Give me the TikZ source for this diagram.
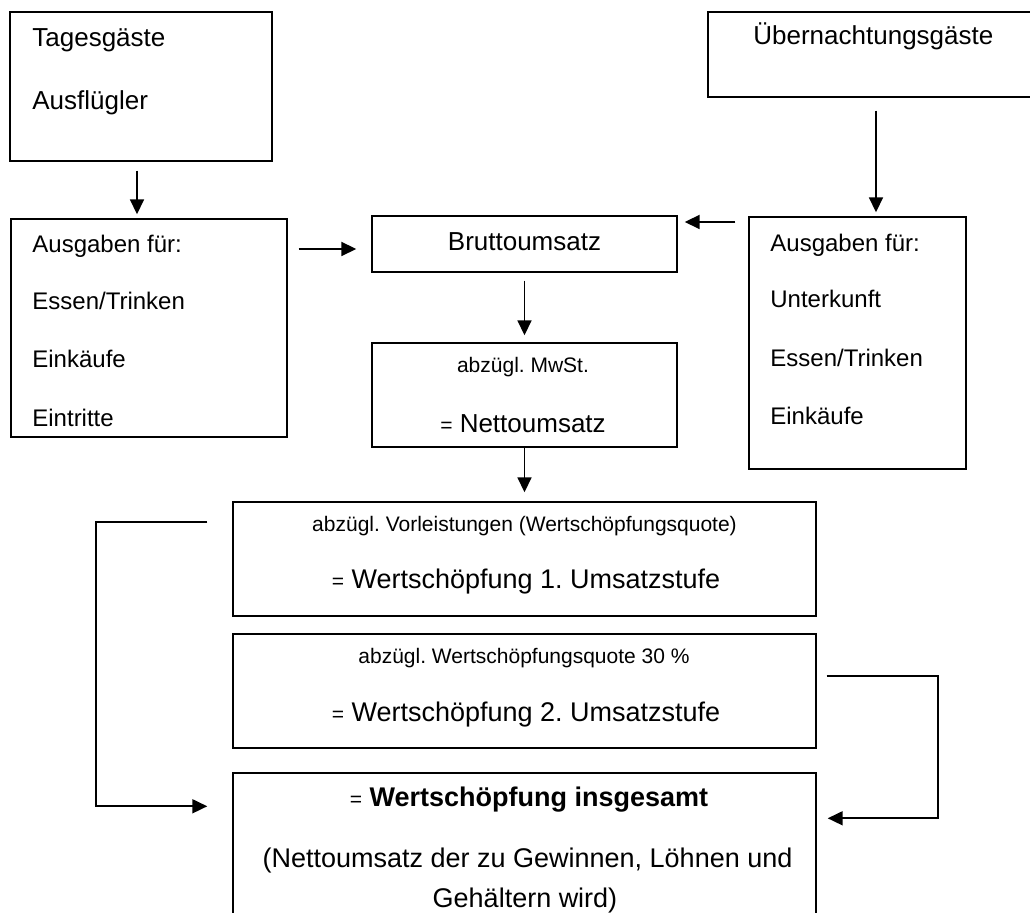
\documentclass[tikz,border=0pt]{standalone}
\usepackage{fontspec}
\setmainfont{Liberation Sans}
\usetikzlibrary{arrows.meta}
\frenchspacing

\tikzset{
	box/.style={draw, line width=0.7pt, inner sep=0pt},
	pfeil/.style={-{Triangle[length=7.5pt,width=7pt]}, line width=0.9pt},
	txt/.style={inner sep=0pt, font=\fontsize{13}{15}\selectfont},
	ausg/.style={inner sep=0pt, font=\fontsize{12}{14}\selectfont},
	klein/.style={inner sep=0pt, font=\fontsize{10.5}{12}\selectfont},
	gross/.style={inner sep=0pt, font=\fontsize{13.5}{16}\selectfont}
}
\newcommand{\gl}{{\fontsize{10.5}{12}\selectfont =}}

\begin{document}
\begin{tikzpicture}[x=0.5pt, y=-0.5pt]

			\useasboundingbox (0,0) rectangle (1030,913);
			\clip (0,0) rectangle (1030,913);

			% Kästen
			\node[box, minimum width=131pt, minimum height=74.5pt] (tag) at (141,86.5) {};
			\node[box, minimum width=138pt, minimum height=109pt] (ausL) at (149,328) {};
			\node[box, minimum width=168pt, minimum height=42.5pt] (ueber) at (876,54.5) {};
			\node[box, minimum width=108.5pt, minimum height=126pt] (ausR) at (857.5,343) {};
			\node[box, minimum width=152.5pt, minimum height=28pt] (brutto) at (524.5,244) {};
			\node[box, minimum width=152.5pt, minimum height=52pt] (netto) at (524.5,395) {};
			\node[box, minimum width=291.5pt, minimum height=57pt] (ws1) at (524.5,559) {};
			\node[box, minimum width=291.5pt, minimum height=57pt] (ws2) at (524.5,691) {};
			\node[box, minimum width=291.5pt, minimum height=95pt] (total) at (524.5,868) {};

			% Texte
			\node[txt, anchor=base west] (tag1) at (32,47) {Tagesgäste};
			\node[txt, anchor=base west] (tag2) at (32,110) {Ausflügler};

			\node[ausg, anchor=base west] (ausL1) at (32,253) {Ausgaben für:};
			\node[ausg, anchor=base west] (ausL2) at (32,310) {Essen/Trinken};
			\node[ausg, anchor=base west] (ausL3) at (32,368) {Einkäufe};
			\node[ausg, anchor=base west] (ausL4) at (32,427) {Eintritte};

			\node[txt, anchor=base west] (ueber1) at (753,45) {Übernachtungsgäste};

			\node[ausg, anchor=base west] (ausR1) at (770,252) {Ausgaben für:};
			\node[ausg, anchor=base west] (ausR2) at (770,308) {Unterkunft};
			\node[ausg, anchor=base west] (ausR3) at (770,367) {Essen/Trinken};
			\node[ausg, anchor=base west] (ausR4) at (770,425) {Einkäufe};

			\node[txt, anchor=base] (brutto1) at (524.5,251) {Bruttoumsatz};

			\node[klein, anchor=base] (netto1) at (523,373) {abzügl. MwSt.};
			\node[txt, anchor=base] (netto2) at (523,433) {\gl{} Nettoumsatz};

			\node[klein, anchor=base] (ws1a) at (524.5,532) {abzügl. Vorleistungen (Wertschöpfungsquote)};
			\node[gross, anchor=base] (ws1b) at (526,589) {\gl{} Wertschöpfung 1. Umsatzstufe};

			\node[klein, anchor=base] (ws2a) at (524,664) {abzügl. Wertschöpfungsquote 30 \%};
			\node[gross, anchor=base] (ws2b) at (526,722) {\gl{} Wertschöpfung 2. Umsatzstufe};

			\node[gross, anchor=base] (total1) at (529,807) {\gl{} \textbf{Wertschöpfung insgesamt}};
			\node[gross, anchor=base] (total2) at (527.5,868) {(Nettoumsatz der zu Gewinnen, Löhnen und};
			\node[gross, anchor=base] (total3) at (525,908) {Gehältern wird)};

			% Pfeile
			\coordinate (p1) at ([xshift=-2pt]tag.south);
			\draw[pfeil, shorten <=4.5pt, shorten >=2pt] (p1) -- (p1 |- ausL.north);
			\draw[pfeil, shorten <=6.5pt, shorten >=2pt] (ueber.south) -- (ueber.south |- ausR.north);

			\coordinate (p2) at ([yshift=-2.5pt]brutto.west);
			\draw[pfeil, shorten <=5.5pt, shorten >=7.5pt] (p2 -| ausL.east) -- (p2);
			\coordinate (p3) at ([yshift=11pt]brutto.east);
			\draw[pfeil, shorten <=6.5pt, shorten >=3.5pt] (p3 -| ausR.west) -- (p3);

			\draw[pfeil, shorten <=4pt, shorten >=3.5pt] (brutto.south) -- (netto.north);
			\draw[pfeil, shorten >=4.5pt] (netto.south) -- (ws1.north);

			\coordinate (q1) at ([xshift=-12.5pt, yshift=-10.5pt]ws1.north west);
			\coordinate (q2) at ([xshift=-12.5pt, yshift=-17pt]total.north west);
			\draw[pfeil] (q1) -- ++(-55.5pt,0) |- (q2);

			\coordinate (q3) at ([xshift=5pt, yshift=-21.5pt]ws2.north east);
			\coordinate (q4) at ([xshift=5.5pt, yshift=-23pt]total.north east);
			\draw[pfeil] (q3) -- ++(55.5pt,0) |- (q4);

	\end{tikzpicture}
\end{document}
